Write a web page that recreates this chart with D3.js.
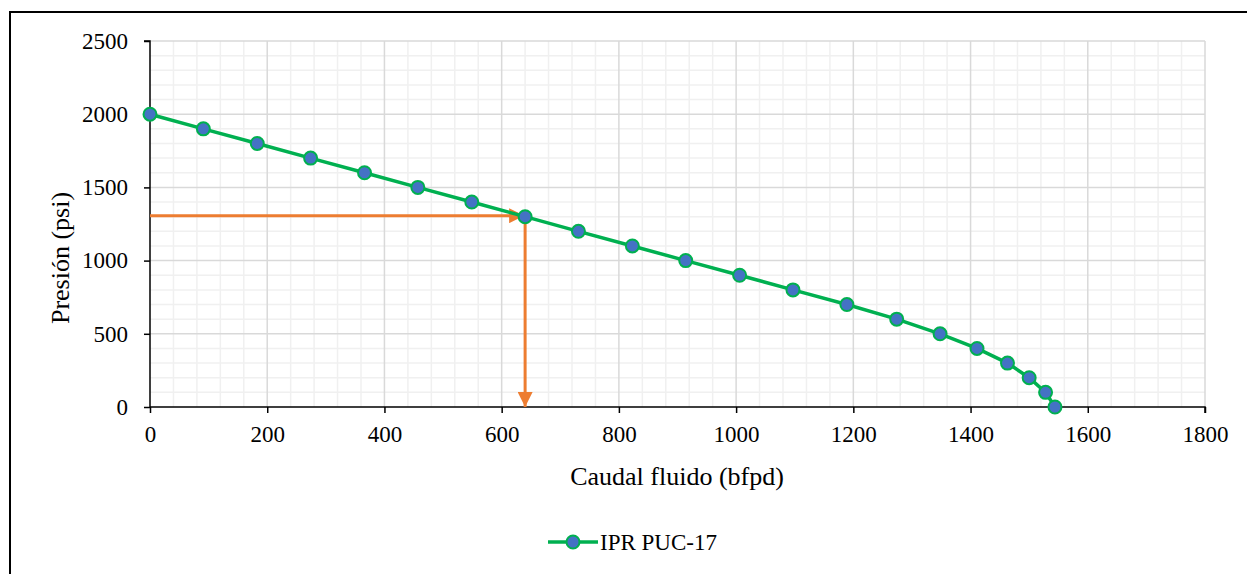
<!DOCTYPE html>
<html>
<head>
<meta charset="utf-8">
<script src="https://cdn.jsdelivr.net/npm/d3@7"></script>
<style>
  html, body { margin: 0; padding: 0; background: #fff; }
  svg { display: block; font-family: "Liberation Serif", "Times New Roman", serif; }
</style>
</head>
<body>
<svg id="chart" width="1247" height="574"></svg>
<script>
// ---- data ----
const caudal = [0, 91, 183, 274, 366, 457, 549, 640, 731, 823, 914, 1006, 1097, 1189, 1274, 1348, 1411, 1463, 1500, 1528, 1544];
const presion = [2000, 1900, 1800, 1700, 1600, 1500, 1400, 1300, 1200, 1100, 1000, 900, 800, 700, 600, 500, 400, 300, 200, 100, 0];
const seriesName = "IPR PUC-17";
const xTicks = [0, 200, 400, 600, 800, 1000, 1200, 1400, 1600, 1800];
const yTicks = [0, 500, 1000, 1500, 2000, 2500];
const opPoint = [640, 1300];   // operating point marked by arrows
const xTitle = "Caudal fluido (bfpd)";
const yTitle = "Presión (psi)";

// ---- layout ----
const svg = d3.select("#chart");
const L = 150, R = 1205, T = 41, B = 407;
const x = d3.scaleLinear().domain([0, 1800]).range([L, R]);
const y = d3.scaleLinear().domain([0, 2500]).range([B, T]);

// frame
svg.append("rect").attr("x", 10).attr("y", 12).attr("width", 1260).attr("height", 600)
  .attr("fill", "none").attr("stroke", "#000").attr("stroke-width", 2);

// minor grid
const g = svg.append("g");
g.selectAll(".mx").data(d3.range(0, 1801, 40).filter(v => v % 200 !== 0)).enter().append("line")
  .attr("x1", d => x(d)).attr("x2", d => x(d)).attr("y1", T).attr("y2", B)
  .attr("stroke", "#f0f0f0").attr("stroke-width", 1.5);
g.selectAll(".my").data(d3.range(0, 2501, 100).filter(v => v % 500 !== 0)).enter().append("line")
  .attr("x1", L).attr("x2", R).attr("y1", d => y(d)).attr("y2", d => y(d))
  .attr("stroke", "#f0f0f0").attr("stroke-width", 1.5);
// major grid
g.selectAll(".Mx").data(xTicks.filter(v => v > 0)).enter().append("line")
  .attr("x1", d => x(d)).attr("x2", d => x(d)).attr("y1", T).attr("y2", B)
  .attr("stroke", "#d9d9d9").attr("stroke-width", 1.5);
g.selectAll(".My").data(yTicks.filter(v => v > 0)).enter().append("line")
  .attr("x1", L).attr("x2", R).attr("y1", d => y(d)).attr("y2", d => y(d))
  .attr("stroke", "#d9d9d9").attr("stroke-width", 1.5);

// axes
const fs = 23;
const xAxis = svg.append("g").attr("transform", `translate(0,${B})`)
  .call(d3.axisBottom(x).tickValues(xTicks).tickSize(6).tickPadding(13).tickFormat(d3.format("d")));
const yAxis = svg.append("g").attr("transform", `translate(${L},0)`)
  .call(d3.axisLeft(y).tickValues(yTicks).tickSize(6).tickPadding(16).tickFormat(d3.format("d")));
[xAxis, yAxis].forEach(a => {
  a.select(".domain").attr("stroke", "#000").attr("stroke-width", 1.5);
  a.selectAll(".tick line").attr("stroke", "#000").attr("stroke-width", 1.5);
  a.selectAll(".tick text").attr("font-family", "Liberation Serif").attr("font-size", fs).attr("fill", "#000");
});
yAxis.select(".domain").attr("d", `M-6,${T}H0V${B}`);
xAxis.select(".domain").attr("d", `M${L},0H${R}V6`);

// axis titles
svg.append("text").attr("x", 677).attr("y", 485).attr("text-anchor", "middle")
  .attr("font-size", 26).text(xTitle);
svg.append("text").attr("transform", "translate(69,258) rotate(-90)").attr("text-anchor", "middle")
  .attr("font-size", 26).text(yTitle);

// arrows
const orange = "#ED7D31";
const defs = svg.append("defs");
defs.append("marker").attr("id", "arr").attr("viewBox", "0 0 10 10").attr("refX", 10).attr("refY", 5)
  .attr("markerUnits", "userSpaceOnUse").attr("markerWidth", 15).attr("markerHeight", 15).attr("orient", "auto")
  .append("path").attr("d", "M0,0L10,5L0,10Z").attr("fill", orange);
svg.append("line").attr("x1", x(0)).attr("x2", x(opPoint[0]) - 1).attr("y1", y(opPoint[1]) - 1).attr("y2", y(opPoint[1]) - 1)
  .attr("stroke", orange).attr("stroke-width", 3).attr("marker-end", "url(#arr)");
svg.append("line").attr("x1", x(opPoint[0])).attr("x2", x(opPoint[0])).attr("y1", y(opPoint[1])).attr("y2", y(0))
  .attr("stroke", orange).attr("stroke-width", 3).attr("marker-end", "url(#arr)");

// series
const green = "#00B050", blue = "#4472C4";
const data = caudal.map((c, i) => [c, presion[i]]);
svg.append("path").datum(data).attr("fill", "none").attr("stroke", green).attr("stroke-width", 3.5)
  .attr("d", d3.line().x(d => x(d[0])).y(d => y(d[1])));
svg.selectAll(".pt").data(data).enter().append("circle")
  .attr("cx", d => x(d[0])).attr("cy", d => y(d[1])).attr("r", 6.5)
  .attr("fill", blue).attr("stroke", green).attr("stroke-width", 2);

// legend
const ly = 542;
svg.append("line").attr("x1", 548).attr("x2", 598).attr("y1", ly).attr("y2", ly)
  .attr("stroke", green).attr("stroke-width", 3.5);
svg.append("circle").attr("cx", 573).attr("cy", ly).attr("r", 6.5)
  .attr("fill", blue).attr("stroke", green).attr("stroke-width", 2);
svg.append("text").attr("x", 600).attr("y", ly + 8).attr("font-size", 23).text(seriesName);
</script>
</body>
</html>
